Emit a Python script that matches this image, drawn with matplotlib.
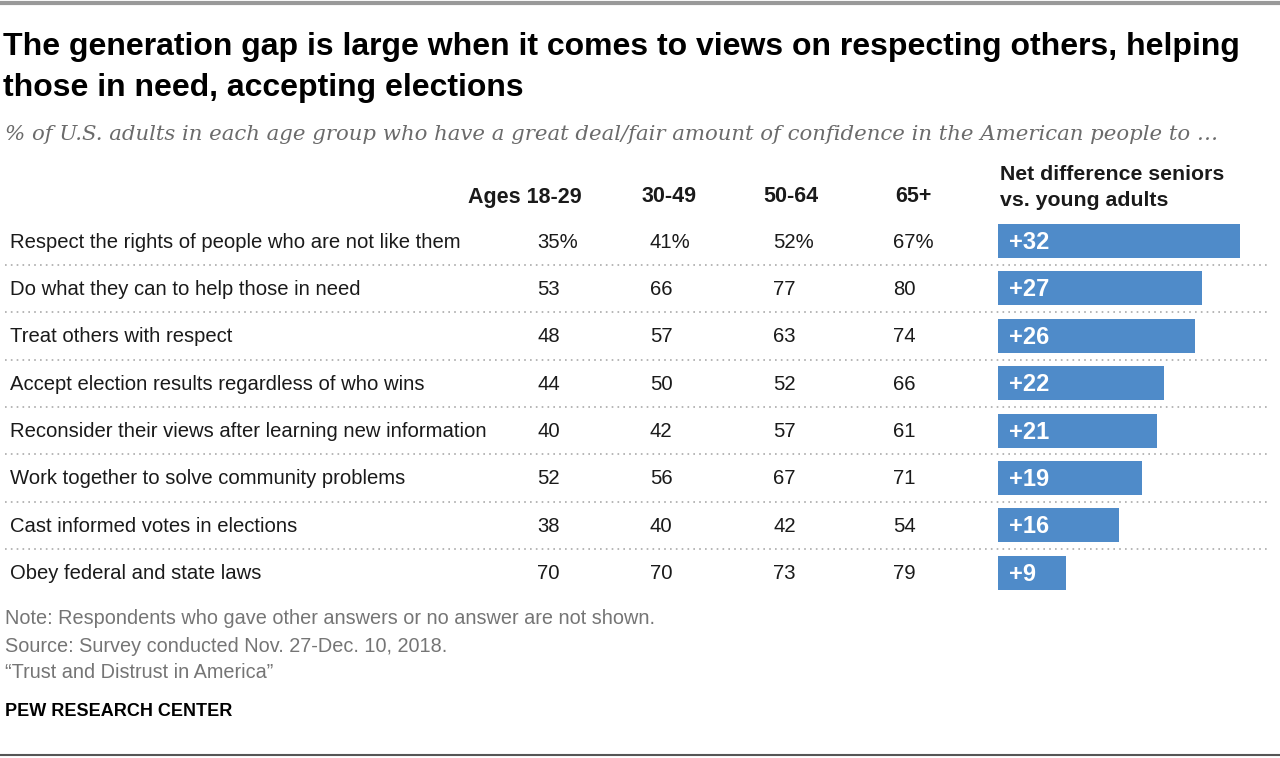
import numpy as np
import matplotlib.pyplot as plt

plt.rcParams['font.family'] = ['Liberation Sans', 'DejaVu Sans']

items = ['Respect the rights of people who are not like them',
         'Do what they can to help those in need',
         'Treat others with respect',
         'Accept election results regardless of who wins',
         'Reconsider their views after learning new information',
         'Work together to solve community problems',
         'Cast informed votes in elections',
         'Obey federal and state laws']
age_18_29 = [35, 53, 48, 44, 40, 52, 38, 70]
age_30_49 = [41, 66, 57, 50, 42, 56, 40, 70]
age_50_64 = [52, 77, 63, 52, 57, 67, 42, 73]
age_65_up = [67, 80, 74, 66, 61, 71, 54, 79]
net_diff = [32, 27, 26, 22, 21, 19, 16, 9]
col_heads = ['Ages 18-29', '30-49', '50-64', '65+']

W, H = 1280, 758
fig = plt.figure(figsize=(W / 100, H / 100), dpi=100)

# overlay axes in pixel coords for all the text
ax = fig.add_axes([0, 0, 1, 1])
ax.set_xlim(0, W)
ax.set_ylim(H, 0)
ax.axis('off')

dark = '#1a1a1a'
grey = '#757575'
blue = '#4f8bc9'

ax.plot([0, W], [3, 3], color='#999999', lw=3, solid_capstyle='butt')
ax.plot([0, W], [755, 755], color='#555555', lw=1.5, solid_capstyle='butt')

ax.text(3, 47, 'The generation gap is large when it comes to views on respecting others, helping',
        fontsize=23, fontweight='bold', color='black', va='center', ha='left')
ax.text(3, 88, 'those in need, accepting elections',
        fontsize=23, fontweight='bold', color='black', va='center', ha='left')
ax.text(5, 134, '% of U.S. adults in each age group who have a great deal/fair amount of confidence in the American people to \u2026',
        fontsize=15.3, style='italic', color='#6b6b6b', va='center', ha='left',
        family=['DejaVu Serif'])

# column headers
head_x = [582, 697, 818, 932]
for hx, h in zip(head_x, col_heads):
    ax.text(hx, 197, h, fontsize=15.5, fontweight='bold', color=dark, ha='right', va='center')
ax.text(1000, 174, 'Net difference seniors', fontsize=15.3, fontweight='bold', color=dark, ha='left', va='center')
ax.text(1000, 200, 'vs. young adults', fontsize=15.3, fontweight='bold', color=dark, ha='left', va='center')

row0, row_h = 241, 47.4
val_x = [537, 650, 773, 893]
cols = [age_18_29, age_30_49, age_50_64, age_65_up]
for i, label in enumerate(items):
    y = row0 + i * row_h
    ax.text(10, y + 1, label, fontsize=14.6, color=dark, ha='left', va='center')
    for vx, col in zip(val_x, cols):
        s = f'{col[i]}%' if i == 0 else f'{col[i]}'
        ax.text(vx, y + 1, s, fontsize=14.6, color=dark, ha='left', va='center')
    if i < len(items) - 1:
        ax.plot([5, 1270], [y + row_h / 2, y + row_h / 2], color='#aaaaaa', lw=1.2,
                linestyle=(0, (1, 2.5)))

# footer
ax.text(5, 619, 'Note: Respondents who gave other answers or no answer are not shown.',
        fontsize=14.3, color=grey, ha='left', va='center')
ax.text(5, 646, 'Source: Survey conducted Nov. 27-Dec. 10, 2018.',
        fontsize=14.3, color=grey, ha='left', va='center')
ax.text(5, 673, '\u201cTrust and Distrust in America\u201d',
        fontsize=14.3, color=grey, ha='left', va='center')
ax.text(5, 712, 'PEW RESEARCH CENTER', fontsize=13, fontweight='bold', color='black',
        ha='left', va='center')

# bar axes: x=0 at 998px, about 7.56 px per point
px_per = 7.56
x0, x1 = 998, 1275
top = row0 - row_h / 2
bot = row0 + (len(items) - 0.5) * row_h
bax = fig.add_axes([x0 / W, 1 - bot / H, (x1 - x0) / W, (bot - top) / H])
bax.set_xlim(0, (x1 - x0) / px_per)
bax.set_ylim(len(items) - 0.5, -0.5)
bax.axis('off')
ypos = np.arange(len(items))
bax.barh(ypos, net_diff, height=0.72, color=blue, edgecolor='none')
for yy, v in zip(ypos, net_diff):
    bax.text(1.4, yy + 0.03, f'+{v}', fontsize=17, fontweight='bold', color='white',
             ha='left', va='center')

fig.savefig('out.png', dpi=100)
